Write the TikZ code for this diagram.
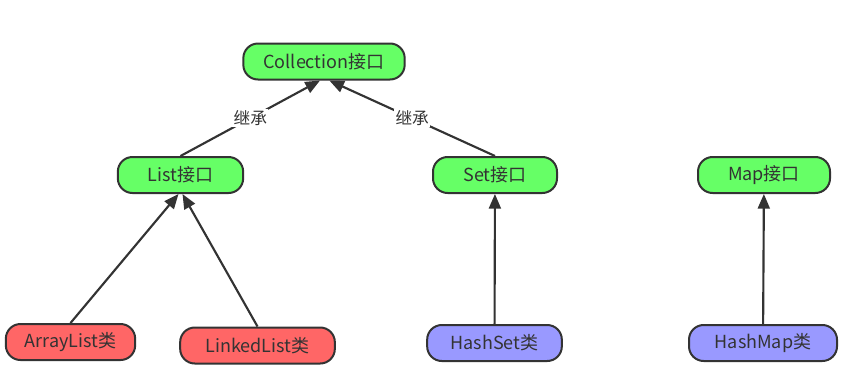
\documentclass[tikz,border=0pt]{standalone}
\usepackage{fontspec}
\setmainfont{Noto Sans CJK SC}
\usepackage{xcolor}
\usetikzlibrary{arrows.meta,positioning}
\definecolor{ifgreen}{HTML}{66FF66}
\definecolor{clsred}{HTML}{FF6666}
\definecolor{clsblue}{HTML}{9999FF}
\definecolor{edgegray}{HTML}{333333}

\begin{document}
\begin{tikzpicture}[
  x=0.75pt, y=-0.75pt,
  box/.style={rectangle, draw=edgegray, line width=1.5pt, rounded corners=11pt,
              minimum width=94pt, minimum height=27pt, inner xsep=8pt,
              text=edgegray, font=\fontsize{13.5}{15}\selectfont},
  iface/.style={box, fill=ifgreen},
  lcls/.style={box, fill=clsred},
  hcls/.style={box, fill=clsblue},
  arr/.style={-{Triangle[length=11pt,width=9pt]}, line width=1.6pt, draw=edgegray},
  lbl/.style={font=\fontsize{12.5}{14}\selectfont, text=edgegray, fill=white,
              inner sep=1pt, midway}
]
\useasboundingbox (0,0) rectangle (841,372);

\node[iface, minimum width=121pt] (coll)  at (324,61.5) {Collection接口};
\node[iface] (list)  at (180.5,175) {List接口};
\node[iface, minimum width=93pt]  (set)   at (495,175)   {Set接口};
\node[iface, minimum width=99pt]  (map)   at (764,175)   {Map接口};
\node[lcls, minimum width=97pt]   (alist) at (70.5,342)  {ArrayList类};
\node[lcls, minimum width=116pt]  (llist) at (257.5,345.5) {LinkedList类};
\node[hcls, minimum width=101pt]  (hset)  at (494.5,343) {HashSet类};
\node[hcls, minimum width=111pt]  (hmap)  at (763,343)   {HashMap类};

\draw[arr] (list.north) -- node[lbl]{继承} ([xshift=-3pt]coll.south);
\draw[arr] (set.north)  -- node[lbl]{继承} ([xshift=4pt]coll.south);
\draw[arr] (alist.north) -- ([xshift=-1.5pt]list.south);
\draw[arr] (llist.north) -- ([xshift=1.5pt]list.south);
\draw[arr] (hset) -- (set);
\draw[arr] (hmap) -- (map);
\end{tikzpicture}
\end{document}
